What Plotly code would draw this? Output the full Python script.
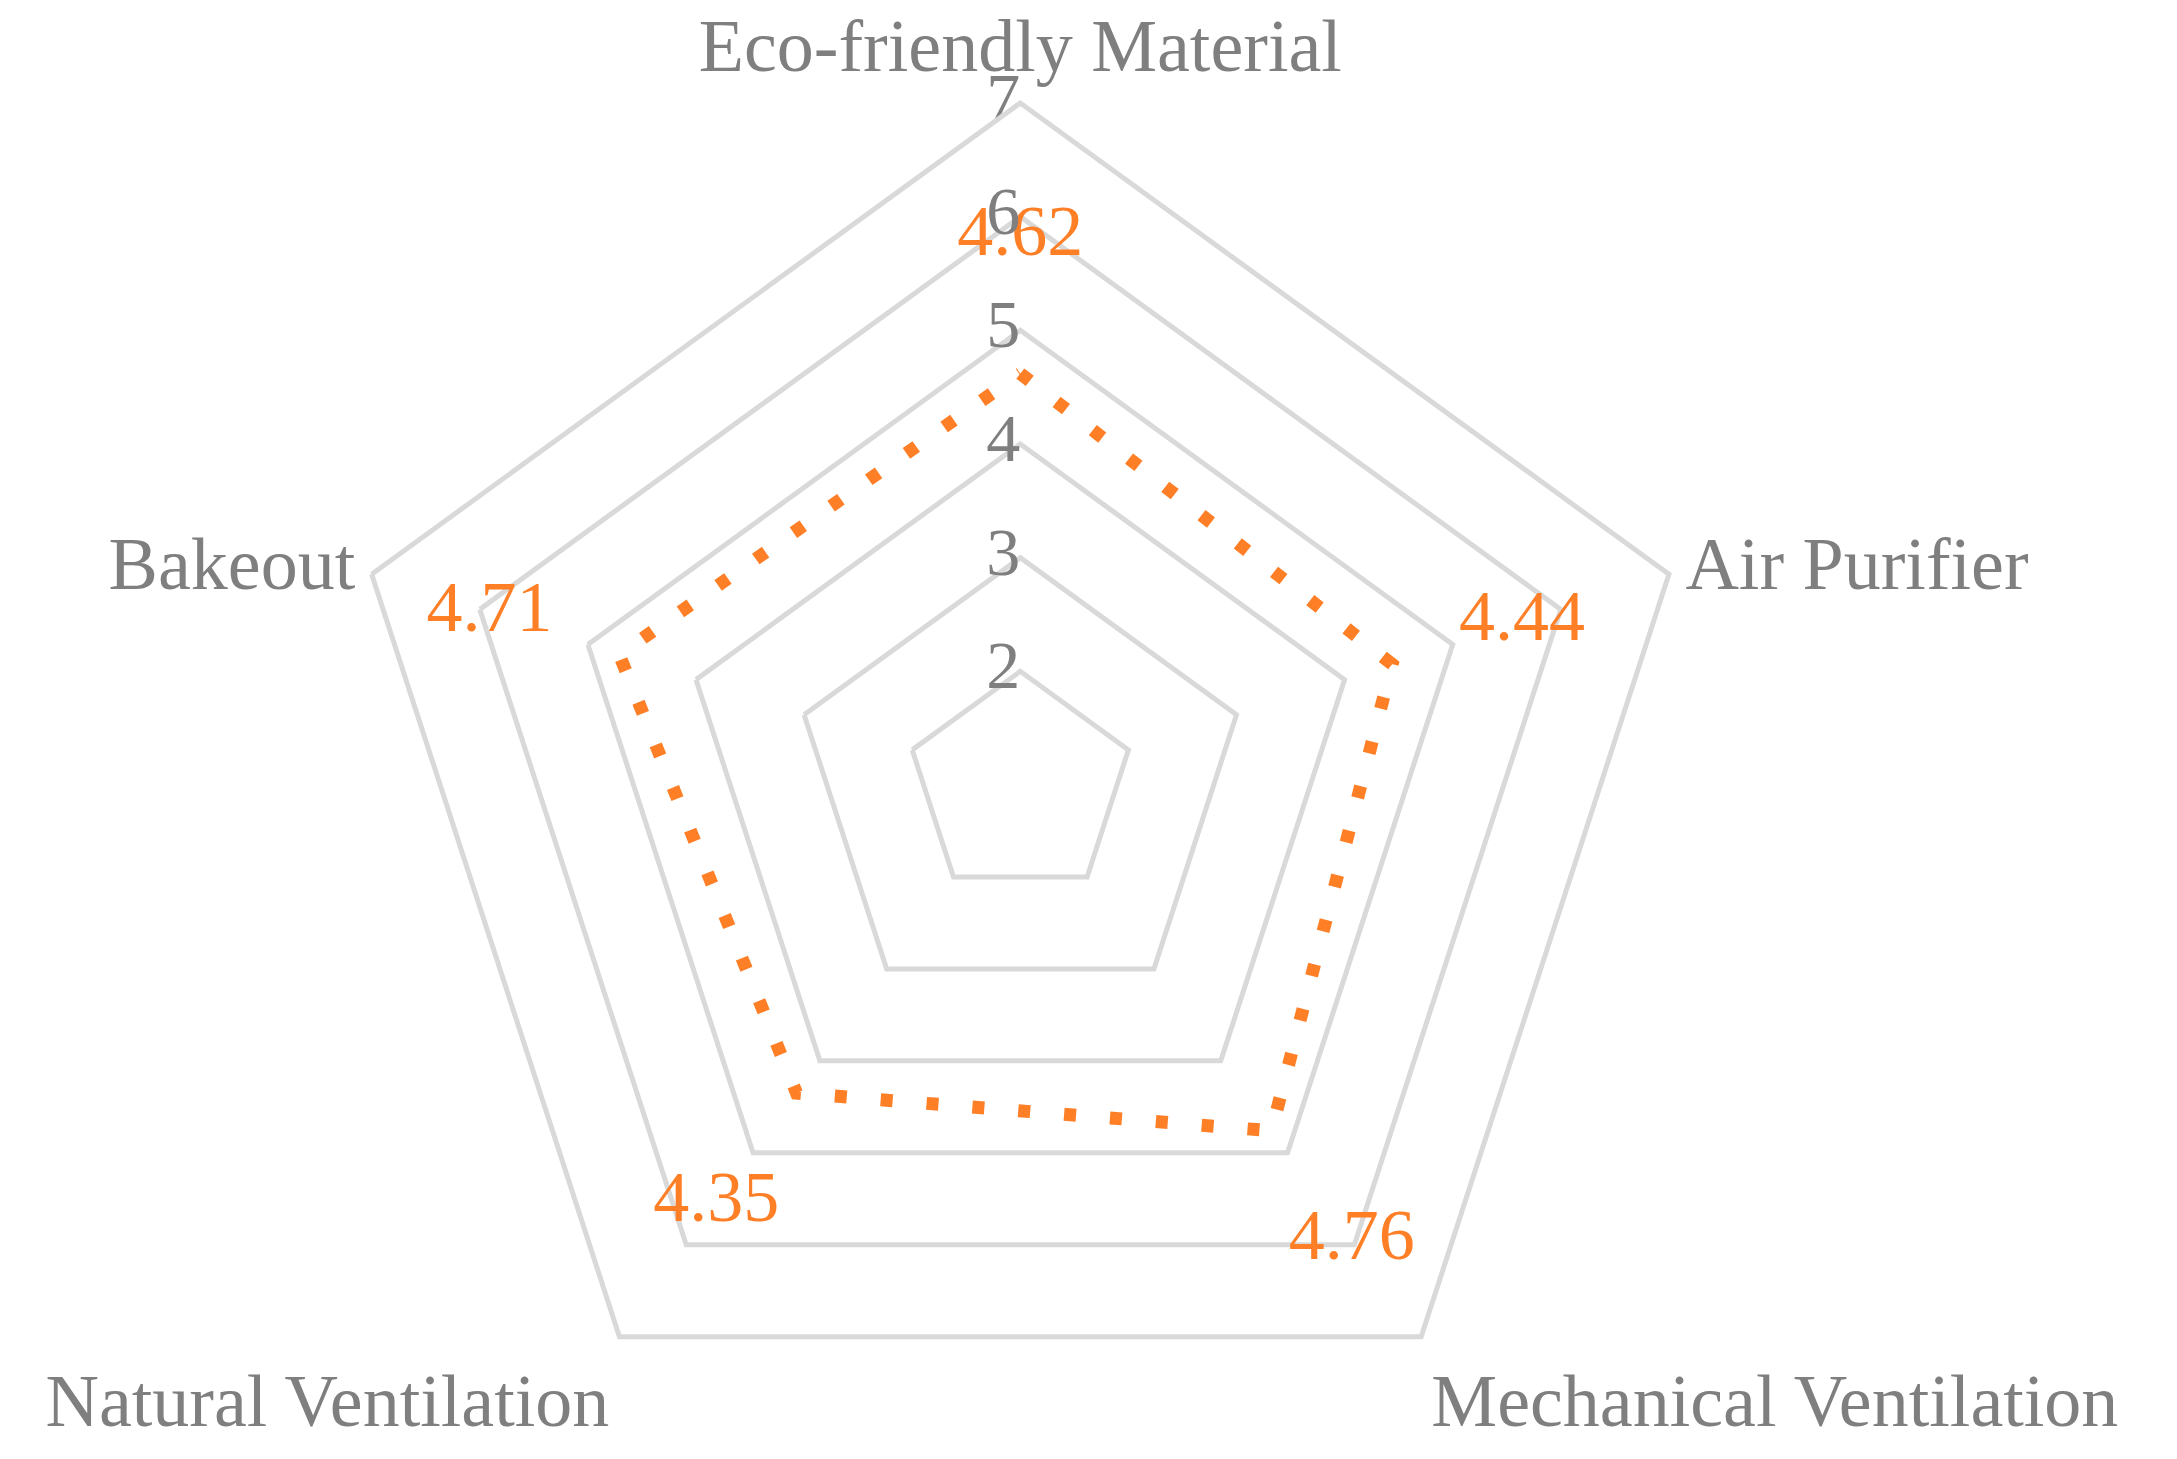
import plotly.graph_objects as go

categories = ["Eco-friendly Material", "Air Purifier", "Mechanical Ventilation",
              "Natural Ventilation", "Bakeout"]
values = [4.62, 4.44, 4.76, 4.35, 4.71]
value_labels = ["4.62", "4.44", "4.76", "4.35", "4.71"]
tick_vals = [1, 2, 3, 4, 5, 6, 7]
tick_text = ["1", "2", "3", "4", "5", "6", "7"]

orange = "#FF7F27"
gray = "#7f7f7f"
font = "Liberation Serif"

fig = go.Figure()
fig.add_trace(go.Scatterpolar(
    r=values + values[:1], theta=categories + categories[:1],
    mode="lines", line=dict(color=orange, width=13, dash="12px,34px"),
    showlegend=False, hoverinfo="skip"))
fig.add_trace(go.Scatterpolar(
    r=[v + 1.2 for v in values], theta=categories,
    mode="text", text=value_labels,
    textfont=dict(family=font, size=72, color=orange),
    showlegend=False))
# radial tick labels, horizontal, left of the top axis
fig.add_trace(go.Scatterpolar(
    r=tick_vals, theta=[categories[0]] * len(tick_vals),
    mode="text", text=tick_text, textposition="middle left",
    textfont=dict(family=font, size=68, color=gray),
    showlegend=False, hoverinfo="skip"))

fig.update_layout(
    width=2177, height=1459,
    paper_bgcolor="white",
    margin=dict(l=0, r=0, t=95, b=0),
    polar=dict(
        gridshape="linear",
        bgcolor="white",
        domain=dict(x=[0.0, 0.93], y=[0, 1]),
        radialaxis=dict(range=[1, 7], tickvals=tick_vals, angle=90,
                        showline=False, gridcolor="#d9d9d9", gridwidth=5,
                        ticks="", showticklabels=False),
        angularaxis=dict(direction="clockwise", rotation=90,
                         showgrid=False, linecolor="#d9d9d9", linewidth=5,
                         ticks="",
                         tickfont=dict(family=font, size=74, color=gray)),
    ),
)

fig.write_html("out.html")
